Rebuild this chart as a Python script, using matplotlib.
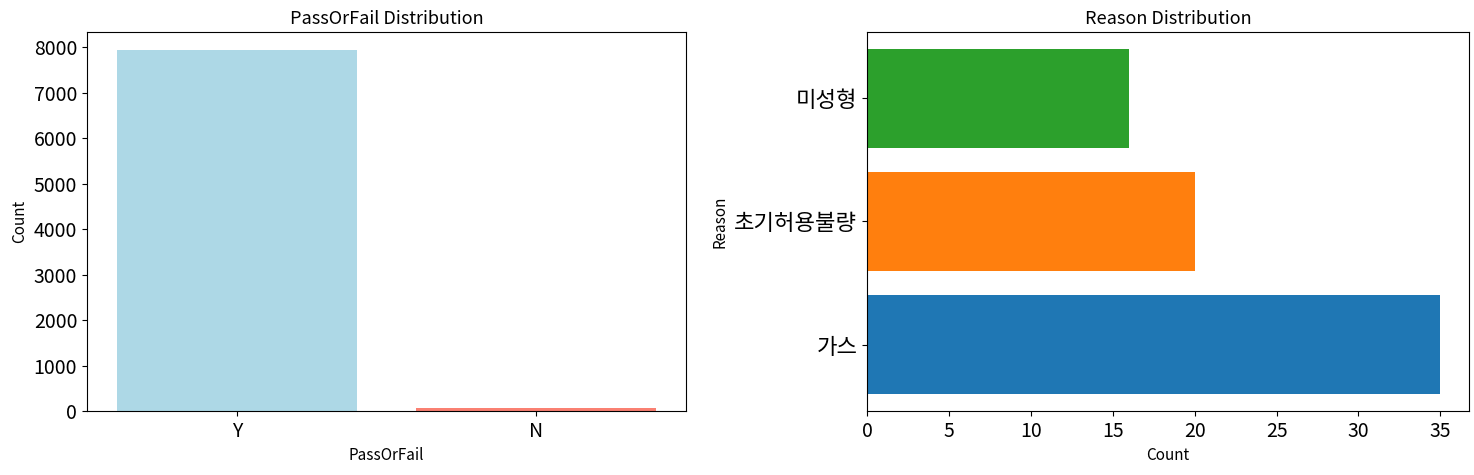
import matplotlib
matplotlib.use('Agg')
import matplotlib.pyplot as plt

plt.rcParams['font.family'] = ['Noto Sans CJK KR', 'DejaVu Sans']
plt.rcParams['axes.unicode_minus'] = False

# 합격/불합격 건수
pass_labels = ['Y', 'N']
pass_counts = [7940, 71]
pass_colors = ['lightblue', 'salmon']

# 불량 사유별 건수
reasons = ['가스', '초기허용불량', '미성형']
reason_counts = [35, 20, 16]
reason_colors = ['tab:blue', 'tab:orange', 'tab:green']

fig = plt.figure(figsize=(14.74, 4.75), dpi=100)
ax1 = fig.add_axes([0.059, 0.1347, 0.4064, 0.798])
ax2 = fig.add_axes([0.5882, 0.1347, 0.4084, 0.798])

ax1.bar(pass_labels, pass_counts, color=pass_colors, width=0.8)
ax1.set_xlim(-0.5, 1.5)
ax1.set_title('PassOrFail Distribution', fontsize=13)
ax1.set_xlabel('PassOrFail', fontsize=11)
ax1.set_ylabel('Count', fontsize=11)
ax1.tick_params(labelsize=14)

ax2.barh(reasons, reason_counts, color=reason_colors)
ax2.set_title('Reason Distribution', fontsize=13)
ax2.set_xlabel('Count', fontsize=11)
ax2.set_ylabel('Reason', fontsize=11)
ax2.tick_params(axis='x', labelsize=14)
ax2.tick_params(axis='y', labelsize=16)

fig.savefig('out.png', dpi=100)
